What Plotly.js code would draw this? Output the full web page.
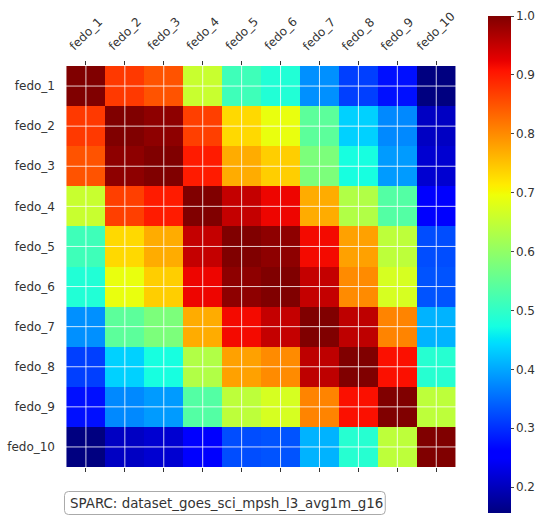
<!DOCTYPE html>
<html>
<head>
<meta charset="utf-8">
<script src="https://cdn.plot.ly/plotly-3.0.1.min.js"></script>
<style>
  html, body { margin: 0; padding: 0; background: #ffffff; }
  #chart { width: 547px; height: 516px; }
</style>
</head>
<body>
<div id="chart"></div>
<script>
// Channel labels (same order on both axes)
const channels = ['fedo_1', 'fedo_2', 'fedo_3', 'fedo_4', 'fedo_5',
                  'fedo_6', 'fedo_7', 'fedo_8', 'fedo_9', 'fedo_10'];

// Pairwise correlation of the channels, one row per channel
const fedo1  = [1.000, 0.873, 0.850, 0.656, 0.515, 0.485, 0.381, 0.314, 0.274, 0.156];
const fedo2  = [0.873, 1.000, 0.990, 0.868, 0.730, 0.690, 0.545, 0.435, 0.375, 0.205];
const fedo3  = [0.850, 0.990, 1.000, 0.900, 0.770, 0.740, 0.578, 0.475, 0.390, 0.215];
const fedo4  = [0.656, 0.868, 0.900, 1.000, 0.950, 0.920, 0.770, 0.633, 0.536, 0.257];
const fedo5  = [0.515, 0.730, 0.770, 0.950, 1.000, 0.990, 0.915, 0.780, 0.645, 0.325];
const fedo6  = [0.485, 0.690, 0.740, 0.920, 0.990, 1.000, 0.950, 0.800, 0.670, 0.330];
const fedo7  = [0.381, 0.545, 0.578, 0.770, 0.915, 0.950, 1.000, 0.955, 0.806, 0.410];
const fedo8  = [0.314, 0.435, 0.475, 0.633, 0.780, 0.800, 0.955, 1.000, 0.910, 0.490];
const fedo9  = [0.274, 0.375, 0.390, 0.536, 0.645, 0.670, 0.806, 0.910, 1.000, 0.645];
const fedo10 = [0.156, 0.205, 0.215, 0.257, 0.325, 0.330, 0.410, 0.490, 0.645, 1.000];

const corr = [fedo1, fedo2, fedo3, fedo4, fedo5, fedo6, fedo7, fedo8, fedo9, fedo10];

// Colour bar ticks
const cbarTicks = [0.2, 0.3, 0.4, 0.5, 0.6, 0.7, 0.8, 0.9, 1.0];

const caption = 'SPARC: dataset_goes_sci_mpsh_l3_avg1m_g16';

// Classic "jet" colour map (piecewise linear stops)
const jet = [
  [0.000, 'rgb(0,0,128)'],
  [0.110, 'rgb(0,0,255)'],
  [0.125, 'rgb(0,0,255)'],
  [0.340, 'rgb(0,219,255)'],
  [0.350, 'rgb(0,230,247)'],
  [0.375, 'rgb(21,255,226)'],
  [0.640, 'rgb(239,255,8)'],
  [0.650, 'rgb(247,245,0)'],
  [0.660, 'rgb(255,236,0)'],
  [0.890, 'rgb(255,19,0)'],
  [0.910, 'rgb(232,0,0)'],
  [1.000, 'rgb(128,0,0)']
];

// Plot-area geometry (pixels)
const W = 547, H = 516;
const M = {l: 64, r: 82, t: 66, b: 49};
const PW = W - M.l - M.r, PH = H - M.t - M.b;
const px2x = p => (p - M.l) / PW;
const px2y = p => (H - M.b - p) / PH;

let zmin = Infinity;
corr.forEach(r => r.forEach(v => { if (v < zmin) zmin = v; }));

const font = 'DejaVu Sans, Verdana, sans-serif';
const txt = '#333333';

const trace = {
  type: 'heatmap',
  x: channels,
  y: channels,
  z: corr,
  zmin: zmin,
  zmax: 1.0,
  colorscale: jet,
  hoverongaps: false,
  colorbar: {
    thickness: 23,
    thicknessmode: 'pixels',
    len: 497,
    lenmode: 'pixels',
    x: px2x(492),
    xanchor: 'left',
    xpad: 0,
    y: px2y(16),
    yanchor: 'top',
    ypad: 0,
    outlinewidth: 0,
    tickmode: 'array',
    tickvals: cbarTicks,
    ticktext: cbarTicks.map(v => v.toFixed(1)),
    ticks: 'outside',
    ticklen: 3,
    tickwidth: 1,
    tickcolor: '#444',
    tickfont: {family: font, size: 12, color: txt}
  }
};

// White grid lines through the centre of every cell, drawn over the cells
const shapes = [];
channels.forEach((c, i) => {
  shapes.push({type: 'line', layer: 'above', xref: 'x', yref: 'paper',
               x0: i, x1: i, y0: 0, y1: 1,
               line: {color: 'rgba(255,255,255,0.8)', width: 1}});
  shapes.push({type: 'line', layer: 'above', xref: 'paper', yref: 'y',
               x0: 0, x1: 1, y0: i, y1: i,
               line: {color: 'rgba(255,255,255,0.8)', width: 1}});
});

// Rounded caption frame
function roundRect(x0, y0, x1, y1, r) {
  const X = p => px2x(p), Y = p => px2y(p);
  const rx = r / PW, ry = r / PH;
  const a = X(x0), b = X(x1), top = Y(y0), bot = Y(y1);
  return 'M ' + (a + rx) + ' ' + top +
         ' L ' + (b - rx) + ' ' + top +
         ' Q ' + b + ' ' + top + ' ' + b + ' ' + (top - ry) +
         ' L ' + b + ' ' + (bot + ry) +
         ' Q ' + b + ' ' + bot + ' ' + (b - rx) + ' ' + bot +
         ' L ' + (a + rx) + ' ' + bot +
         ' Q ' + a + ' ' + bot + ' ' + a + ' ' + (bot + ry) +
         ' L ' + a + ' ' + (top - ry) +
         ' Q ' + a + ' ' + top + ' ' + (a + rx) + ' ' + top + ' Z';
}
shapes.push({type: 'path', xref: 'paper', yref: 'paper', layer: 'above',
             path: roundRect(64.5, 491.5, 388.5, 514.5, 4),
             fillcolor: '#ffffff', line: {color: '#aaaaaa', width: 1}});

// Slanted column labels centred over their ticks
const annotations = channels.map(c => ({
  x: c, xref: 'x', y: 1, yref: 'paper',
  xanchor: 'center', yanchor: 'bottom', yshift: 10,
  text: c, textangle: -45, showarrow: false,
  font: {family: font, size: 12, color: txt}
}));
annotations.push({
  x: px2x(68), xref: 'paper', y: px2y(503.5), yref: 'paper',
  xanchor: 'left', yanchor: 'middle', text: caption, showarrow: false,
  font: {family: font, size: 13.4, color: txt}
});

const layout = {
  width: W, height: H,
  margin: M,
  paper_bgcolor: '#ffffff',
  plot_bgcolor: '#ffffff',
  font: {family: font, color: txt},
  xaxis: {
    type: 'category',
    side: 'top',
    showgrid: false, zeroline: false, showline: false,
    showticklabels: false,
    ticks: 'outside', ticklen: 4, tickwidth: 1, tickcolor: '#333',
    mirror: 'ticks'
  },
  yaxis: {
    type: 'category',
    autorange: 'reversed',
    showgrid: false, zeroline: false, showline: false,
    ticks: '',
    ticklabelstandoff: 8,
    tickfont: {family: font, size: 12, color: txt}
  },
  shapes: shapes,
  annotations: annotations,
  showlegend: false
};

Plotly.newPlot('chart', [trace], layout, {displayModeBar: false, staticPlot: true});
</script>
</body>
</html>
